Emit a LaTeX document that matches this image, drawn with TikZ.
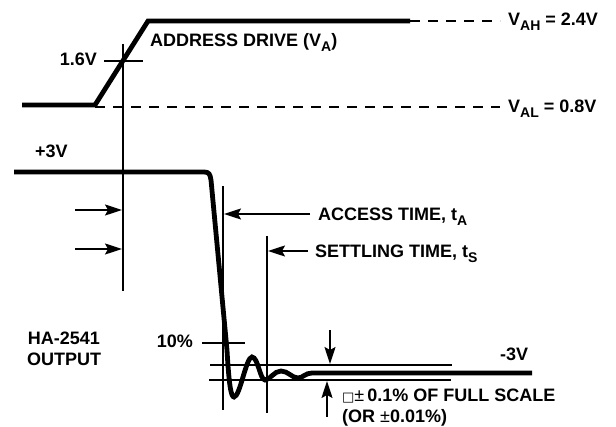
\documentclass[tikz,border=0pt]{standalone}
\usepackage{fontspec}
\setmainfont{Liberation Sans}
\newfontfamily\boxfont{DejaVu Sans}
\usetikzlibrary{arrows.meta}
\newcommand{\lowsub}[1]{\raisebox{-4.5pt}{\fontsize{14}{16}\selectfont #1}}

\begin{document}
\begin{tikzpicture}[x=1pt,y=-1pt,
    signal/.style={line width=4.8pt},
    guide/.style={line width=1.6pt},
    level/.style={line width=1.6pt,dash pattern=on 10pt off 8pt},
    pointer/.style={line width=1.6pt,-{Stealth[length=17pt,width=11pt,inset=3pt]}},
    every node/.style={font=\fontsize{18}{21}\selectfont\bfseries,inner sep=0pt}]
    \useasboundingbox (0,0) rectangle (616,427);

    % address drive
    \draw[level] (410,21) -- (500,21);
    \draw[level] (95,107) -- (500,107);
    \draw[signal] (22,105) -- (95,105) -- (148,21) -- (410,21);
    \node[anchor=base west] (vah) at (508,26) {V\lowsub{AH} = 2.4V};
    \node[anchor=base west] (val) at (508,113) {V\lowsub{AL} = 0.8V};
    \node[anchor=base west] (drive) at (150,47) {ADDRESS DRIVE (V\lowsub{A})};

    \draw[guide] (123,44) -- (123,291);
    \draw[guide] (104,61) -- (143,61);
    \node[anchor=base east] (half) at (97,66) {1.6V};

    % output
    \draw[signal] (14,172) -- (204,172) .. controls (209,172) and (210,174) .. (211,180)
        -- (227,350) .. controls (229,385) and (231,397) .. (234,397)
        .. controls (240,397) and (246,357) .. (252,357)
        .. controls (258,357) and (260,380) .. (265,380)
        .. controls (270,380) and (274,371) .. (281,371)
        .. controls (288,371) and (292,378) .. (298,378)
        .. controls (303,378) and (305,373) .. (312,373) -- (532,373);
    \node[anchor=base west] (plus) at (35,158) {+3V};
    \node[anchor=base west] (minus) at (500,361) {-3V};
    \node[align=center] (out) at (64,349) {HA-2541\\OUTPUT};

    \draw[pointer] (75,210) -- (122,210);
    \draw[pointer] (75,249) -- (122,249);

    \draw[guide] (223,186) -- (223,410);
    \draw[pointer] (310,214) -- (224,214);
    \node[anchor=base west] (access) at (318,221) {ACCESS TIME, t\lowsub{A}};

    \draw[guide] (267,236) -- (267,413);
    \draw[pointer] (308,251) -- (268,251);
    \node[anchor=base west] (settle) at (315,258) {SETTLING TIME, t\lowsub{S}};

    \draw[guide] (202,343) -- (245,343);
    \node[anchor=base east] (ten) at (193,348) {10\%};

    \draw[guide] (210,365) -- (452,365);
    \draw[guide] (209,380) -- (451,380);
    \draw[pointer] (330,330) -- (330,364);
    \draw[pointer] (327,417) -- (327,381);
    \node[anchor=base west] (band) at (342,402) {{\boxfont\mdseries\fontsize{13}{15}\selectfont □}{\mdseries±}\,0.1\% OF FULL SCALE};
    \node[anchor=base west] (alt) at (342,423) {(OR {\mdseries±}0.01\%)};
\end{tikzpicture}
\end{document}
